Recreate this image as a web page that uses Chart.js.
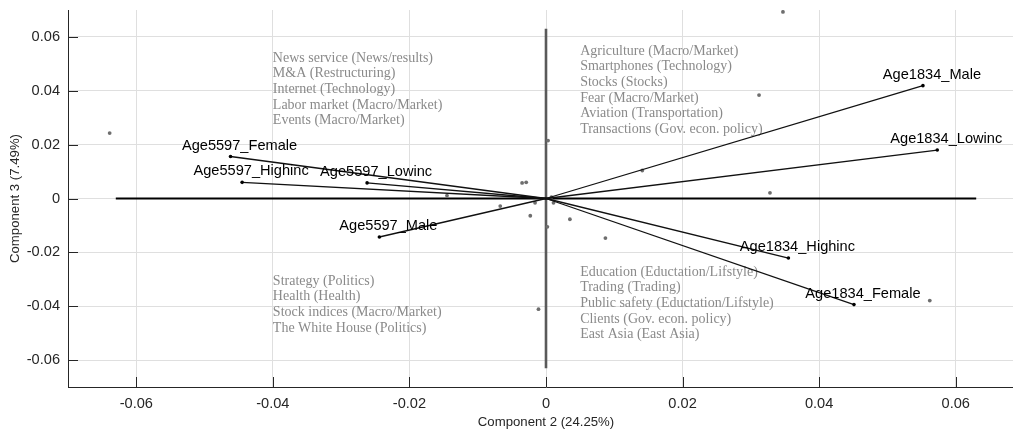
<!DOCTYPE html>
<html>
<head>
<meta charset="utf-8">
<script src="https://cdn.jsdelivr.net/npm/chart.js@4"></script>
<style>
  html, body { margin: 0; padding: 0; background: #fff; overflow: hidden; }
</style>
</head>
<body>
<canvas id="biplot" width="1030" height="432"></canvas>
<script>
/* ---- data ---- */
const xTicks = [-0.06, -0.04, -0.02, 0, 0.02, 0.04, 0.06];
const xTickLabels = ["-0.06", "-0.04", "-0.02", "0", "0.02", "0.04", "0.06"];
const yTicks = [-0.06, -0.04, -0.02, 0, 0.02, 0.04, 0.06];
const yTickLabels = ["-0.06", "-0.04", "-0.02", "0", "0.02", "0.04", "0.06"];

const vectorNames = ["Age1834_Male", "Age1834_Lowinc", "Age1834_Highinc", "Age1834_Female",
                     "Age5597_Female", "Age5597_Highinc", "Age5597_Lowinc", "Age5597_Male"];
const vectorX = [0.0552, 0.0573, 0.0355, 0.0451, -0.0462, -0.0445, -0.0262, -0.0244];
const vectorY = [0.0419, 0.0180, -0.0221, -0.0394, 0.0156, 0.0060, 0.0058, -0.0143];

const scoreX = [-0.0639, 0.0347, 0.0312, 0.0328, 0.0003, -0.0035, -0.0029, -0.0145, 0.0141, -0.0067,
                -0.0016, -0.0023, 0.0002, 0.0008, 0.0011, 0.0035, 0.0087, -0.0011, 0.0562];
const scoreY = [0.0243, 0.0693, 0.0384, 0.0021, 0.0215, 0.0058, 0.0060, 0.0011, 0.0104, -0.0028,
                -0.0016, -0.0064, -0.0105, 0.0005, -0.0016, -0.0077, -0.0147, -0.0411, -0.0379];

// reference cross through the origin
const crossH = [-0.063, 0.063];
const crossV = [-0.063, 0.063];

const topLeftTerms = ["News service (News/results)", "M&A (Restructuring)", "Internet (Technology)",
                      "Labor market (Macro/Market)", "Events (Macro/Market)"];
const topRightTerms = ["Agriculture (Macro/Market)", "Smartphones (Technology)", "Stocks (Stocks)",
                       "Fear (Macro/Market)", "Aviation (Transportation)", "Transactions (Gov. econ. policy)"];
const bottomLeftTerms = ["Strategy (Politics)", "Health (Health)", "Stock indices (Macro/Market)",
                         "The White House (Politics)"];
const bottomRightTerms = ["Education (Eductation/Lifstyle)", "Trading (Trading)",
                          "Public safety (Eductation/Lifstyle)", "Clients (Gov. econ. policy)",
                          "East Asia (East Asia)"];

// where each term list starts (data coords)
const termBlocks = [
  { x: -0.0400, y: 0.0522, lines: topLeftTerms },
  { x: 0.0050, y: 0.0548, lines: topRightTerms },
  { x: -0.0400, y: -0.0306, lines: bottomLeftTerms },
  { x: 0.0050, y: -0.0273, lines: bottomRightTerms }
];

/* ---- datasets ---- */
const datasets = [];

datasets.push({
  data: [{ x: crossH[0], y: 0 }, { x: crossH[1], y: 0 }],
  showLine: true, borderColor: "#000", borderWidth: 1.8, pointRadius: 0, order: 3
});
datasets.push({
  data: [{ x: 0, y: crossV[0] }, { x: 0, y: crossV[1] }],
  showLine: true, borderColor: "#5a5a5a", borderWidth: 2.6, pointRadius: 0, order: 3
});

datasets.push({
  data: scoreX.map((x, i) => ({ x: x, y: scoreY[i] })),
  pointRadius: 1.9, pointBackgroundColor: "#6e6e6e", pointBorderWidth: 0, order: 2
});

vectorNames.forEach((name, i) => {
  datasets.push({
    label: name,
    data: [{ x: 0, y: 0 }, { x: vectorX[i], y: vectorY[i] }],
    showLine: true, borderColor: "#111", borderWidth: 1.3,
    pointRadius: [0, 1.8], pointBackgroundColor: "#000", pointBorderWidth: 0, order: 1
  });
});

/* ---- extra drawing: terms, vector labels, inward ticks ---- */
const biplotExtras = {
  id: "biplotExtras",
  beforeDatasetsDraw(chart) {
    const { ctx, scales: { x, y } } = chart;
    ctx.save();
    ctx.font = '14px "Liberation Serif"';
    ctx.fillStyle = "#8a8a8a";
    ctx.textAlign = "left";
    ctx.textBaseline = "middle";
    termBlocks.forEach(b => {
      const px = x.getPixelForValue(b.x);
      const py = y.getPixelForValue(b.y);
      b.lines.forEach((t, i) => ctx.fillText(t, px, py + i * 15.7));
    });
    ctx.restore();
  },
  afterDatasetsDraw(chart) {
    const { ctx, chartArea, scales: { x, y } } = chart;
    ctx.save();
    ctx.font = '14.6px "Liberation Sans"';
    ctx.fillStyle = "#000";
    ctx.textAlign = "center";
    ctx.textBaseline = "middle";
    vectorNames.forEach((name, i) => {
      const px = x.getPixelForValue(vectorX[i]);
      const py = y.getPixelForValue(vectorY[i]);
      ctx.fillText(name, px + 9, py - 11);
    });

    // MATLAB style ticks pointing inwards
    ctx.strokeStyle = "#262626";
    ctx.lineWidth = 1;
    ctx.beginPath();
    xTicks.forEach(v => {
      const px = Math.round(x.getPixelForValue(v)) + 0.5;
      ctx.moveTo(px, chartArea.bottom);
      ctx.lineTo(px, chartArea.bottom - 10);
    });
    yTicks.forEach(v => {
      const py = Math.round(y.getPixelForValue(v)) + 0.5;
      ctx.moveTo(chartArea.left, py);
      ctx.lineTo(chartArea.left + 10, py);
    });
    ctx.stroke();
    ctx.restore();
  }
};

const tickFont = { family: "Liberation Sans", size: 14.6 };
const titleFont = { family: "Liberation Sans", size: 13.2 };

new Chart(document.getElementById("biplot"), {
  type: "scatter",
  data: { datasets: datasets },
  options: {
    responsive: false,
    animation: false,
    layout: { padding: { top: 10, right: 6, left: 0, bottom: 0 } },
    plugins: { legend: { display: false }, tooltip: { enabled: false } },
    scales: {
      x: {
        type: "linear",
        min: -0.07,
        max: 0.07,
        afterBuildTicks: s => { s.ticks = xTicks.map(v => ({ value: v })); },
        afterFit: s => { s.height = 45; s.paddingLeft = 0; s.paddingRight = 0; },
        ticks: {
          callback: (v, i) => xTickLabels[i],
          font: tickFont, color: "#262626", padding: 8, maxRotation: 0
        },
        grid: { color: "#dfdfdf", drawTicks: false },
        border: { display: true, color: "#262626", width: 1 },
        title: {
          display: true, text: "Component 2 (24.25%)",
          font: titleFont, color: "#262626", padding: { top: 0, bottom: 2 }
        }
      },
      y: {
        type: "linear",
        min: -0.07,
        max: 0.07,
        afterBuildTicks: s => { s.ticks = yTicks.map(v => ({ value: v })); },
        afterFit: s => { s.width = 68; s.paddingTop = 0; s.paddingBottom = 0; },
        ticks: {
          callback: (v, i) => yTickLabels[i],
          font: tickFont, color: "#262626", padding: 8
        },
        grid: { color: "#dfdfdf", drawTicks: false },
        border: { display: true, color: "#262626", width: 1 },
        title: {
          display: true, text: "Component 3 (7.49%)",
          font: titleFont, color: "#262626", padding: { top: 7, bottom: 0 }
        }
      }
    }
  },
  plugins: [biplotExtras]
});
</script>
</body>
</html>
